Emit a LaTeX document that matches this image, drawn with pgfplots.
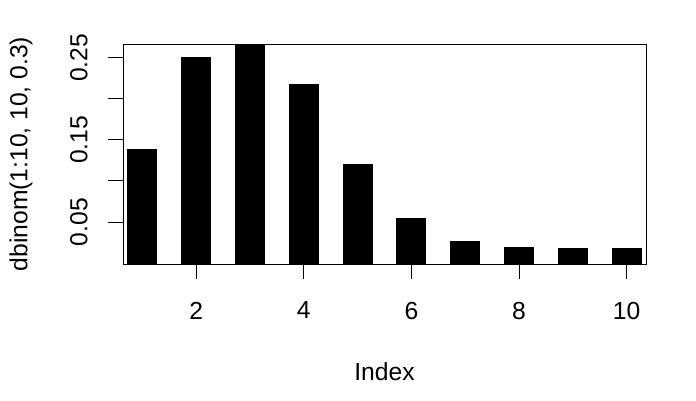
\documentclass[border=0pt]{standalone}
\usepackage{fontspec}
\setmainfont{Liberation Sans}
\usepackage{pgfplots}
\pgfplotsset{compat=1.18}
\begin{document}
\begin{tikzpicture}
\path[use as bounding box] (0pt,0pt) rectangle (522pt,300pt);
\begin{axis}[
  at={(92.25pt,102pt)}, anchor=south west,
  scale only axis=true, width=392.25pt, height=165pt,
  xmin=0.64, xmax=10.36, ymin=-0.0012, ymax=0.267,
  axis line style={black, line width=0.75pt},
  tick style={black, line width=0.75pt},
  tick align=outside, major tick length=11.25pt,
  xtick pos=left, ytick pos=left,
  xtick={2,4,6,8,10},
  ytick={0.05,0.10,0.15,0.20,0.25},
  yticklabels={0.05,,0.15,,0.25},
  /pgf/number format/assume math mode=true,
  font=\fontsize{18.5}{21}\selectfont,
  ticklabel style={font=\fontsize{18.5}{21}\selectfont},
  yticklabel style={rotate=90, anchor=south, inner sep=0pt},
  yticklabel shift=15pt,
  xticklabel style={anchor=north, inner sep=0pt},
  xticklabel shift=17pt,
  xlabel={Index},
  ylabel={dbinom(1:10, 10, 0.3)},
  xlabel style={at={(axis description cs:0.5,-0.491)}, anchor=center, font=\fontsize{18.5}{21}\selectfont},
  ylabel style={at={(axis description cs:-0.195,0.5)}, anchor=center, rotate=0, font=\fontsize{18.5}{21}\selectfont},
  clip=true,
]
\addplot[ycomb, black, line width=22.5pt, line cap=rect, mark=none] coordinates {
(1,0.1210608) (2,0.2334744) (3,0.2668279) (4,0.2001209) (5,0.1029193)
(6,0.0367569) (7,0.0090017) (8,0.0014467) (9,0.0001378) (10,0.0000059)
};
\end{axis}
\end{tikzpicture}
\end{document}
